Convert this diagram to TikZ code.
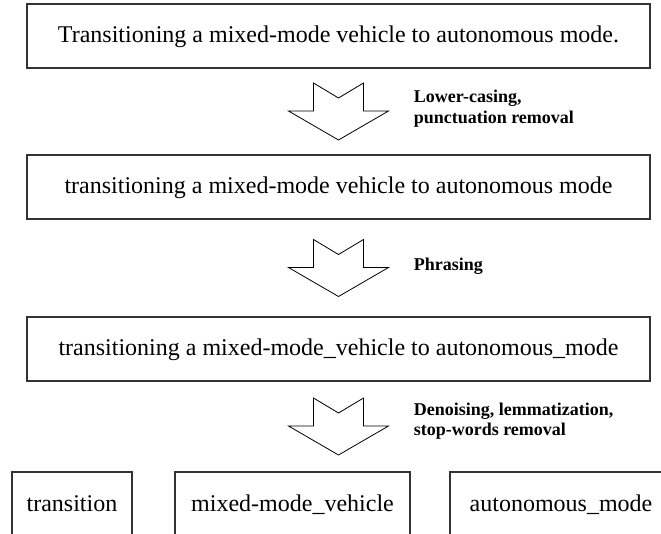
\documentclass[tikz,border=0pt]{standalone}
\usepackage{fontspec}
\setmainfont{Liberation Serif}
\usetikzlibrary{positioning, calc}

\tikzset{
  textbox/.style={draw=black!80, line width=0.8pt, inner sep=0pt,
    minimum height=48pt, text height=13pt, text depth=4pt,
    font=\fontsize{18}{21}\selectfont},
  steplabel/.style={align=left, inner sep=0pt,
    font=\bfseries\fontsize{13.5}{15.5}\selectfont},
  pics/downarrow/.style={code={
    \draw[line width=0.6pt, line join=miter]
      (-25,-28.5) -- (0,-13.5) -- (25,-28.5) -- (25,-0.5) -- (50,-0.5)
      -- (0,28.5) -- (-50,-0.5) -- (-25,-0.5) -- cycle;
  }}
}

\begin{document}
\begin{tikzpicture}[x=0.75pt, y=-0.75pt]
  \useasboundingbox (0,0) rectangle (661,533);

  % sentence at each stage
  \node[textbox, minimum width=467.25pt] (raw) at (338.5,36)
    {Transitioning a mixed-mode vehicle to autonomous mode.};
  \node[textbox, minimum width=467.25pt] (lower) at (338.5,187)
    {transitioning a mixed-mode vehicle to autonomous mode};
  \node[textbox, minimum width=467.25pt] (phrased) at (338.5,349)
    {transitioning a mixed-mode\_vehicle to autonomous\_mode};

  % resulting terms
  \node[textbox, minimum width=90pt, minimum height=49.5pt] (term1) at (72,505) {transition};
  \node[textbox, minimum width=176.25pt, minimum height=49.5pt] (term2) at (292.5,505) {mixed-mode\_vehicle};
  \node[textbox, minimum width=166.5pt, minimum height=49.5pt] (term3) at (561,505) {autonomous\_mode};

  % processing steps
  \coordinate (arr1) at ($(raw.south)!0.5!(lower.north)$);
  \coordinate (arr2) at ($(lower.south)!0.5!(phrased.north)$);
  \coordinate (arr3) at ($(phrased.south)!0.5!(phrased.south |- term2.north)$);
  \pic at (arr1) {downarrow};
  \pic at (arr2) {downarrow};
  \pic at (arr3) {downarrow};

  \node[steplabel, right=56.25pt of arr1, yshift=2pt] (step1) {Lower-casing,\\punctuation removal};
  \node[steplabel, right=56.25pt of arr2, yshift=1.2pt] (step2) {Phrasing};
  \node[steplabel, right=56.25pt of arr3, yshift=4pt] (step3) {Denoising, lemmatization,\\stop-words removal};
\end{tikzpicture}
\end{document}
